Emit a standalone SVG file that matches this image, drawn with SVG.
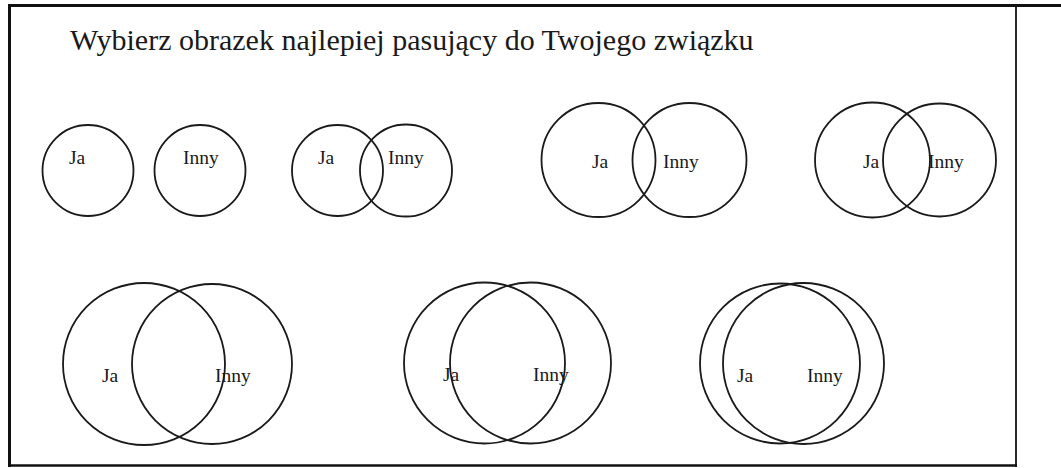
<svg xmlns="http://www.w3.org/2000/svg" width="1061" height="468" viewBox="0 0 1061 468">
<style>
.c{fill:none;stroke:#1a1a1a;stroke-width:1.8}
.frame{stroke:#111;fill:none}
</style>
<rect width="1061" height="468" fill="#fff"/>
<g id="frame">
<line class="frame" x1="9.5" y1="5.5" x2="1061" y2="5.5" stroke-width="3"/>
<line class="frame" x1="9.5" y1="4" x2="9.5" y2="467" stroke-width="3"/>
<line class="frame" x1="9.5" y1="465.5" x2="1017" y2="465.5" stroke-width="2.5"/>
<line class="frame" x1="1016" y1="5" x2="1016" y2="467" stroke-width="1.8"/>
</g>
<text id="title" font-family="Liberation Serif, Times New Roman, DejaVu Serif, serif" font-size="30" fill="#1a1a1a" x="70" y="50">Wybierz obrazek najlepiej pasujący do Twojego związku</text>
<g font-family="Liberation Serif, Times New Roman, DejaVu Serif, serif" font-size="19.5" fill="#1a1a1a">
<g id="pair1">
<g id="p1-ja"><circle class="c" cx="88" cy="170.5" r="45.5"/><text x="69" y="164">Ja</text></g>
<g id="p1-inny"><circle class="c" cx="200" cy="170.5" r="45.5"/><text x="183" y="164">Inny</text></g>
</g>
<g id="pair2">
<g id="p2-ja"><circle class="c" cx="337.5" cy="170.5" r="45.5"/><text x="318" y="164">Ja</text></g>
<g id="p2-inny"><circle class="c" cx="406" cy="170.5" r="46"/><text x="388" y="164">Inny</text></g>
</g>
<g id="pair3">
<g id="p3-ja"><circle class="c" cx="598.5" cy="160" r="57"/><text x="592" y="168">Ja</text></g>
<g id="p3-inny"><circle class="c" cx="689.5" cy="160" r="57"/><text x="663" y="168">Inny</text></g>
</g>
<g id="pair4">
<g id="p4-ja"><circle class="c" cx="872.5" cy="160" r="57.5"/><text x="863" y="168">Ja</text></g>
<g id="p4-inny"><circle class="c" cx="939.5" cy="160" r="56.5"/><text x="928" y="168">Inny</text></g>
</g>
<g id="pair5">
<g id="p5-ja"><circle class="c" cx="144" cy="364" r="81"/><text x="102" y="382">Ja</text></g>
<g id="p5-inny"><circle class="c" cx="212" cy="364" r="80"/><text x="215" y="382">Inny</text></g>
</g>
<g id="pair6">
<g id="p6-ja"><circle class="c" cx="484.5" cy="363" r="80.5"/><text x="443" y="381">Ja</text></g>
<g id="p6-inny"><circle class="c" cx="530.5" cy="363" r="80.5"/><text x="533" y="381">Inny</text></g>
</g>
<g id="pair7">
<g id="p7-ja"><circle class="c" cx="780" cy="363.5" r="80"/><text x="737" y="382">Ja</text></g>
<g id="p7-inny"><circle class="c" cx="803.5" cy="363.5" r="80.5"/><text x="807" y="382">Inny</text></g>
</g>
</g>
</svg>
